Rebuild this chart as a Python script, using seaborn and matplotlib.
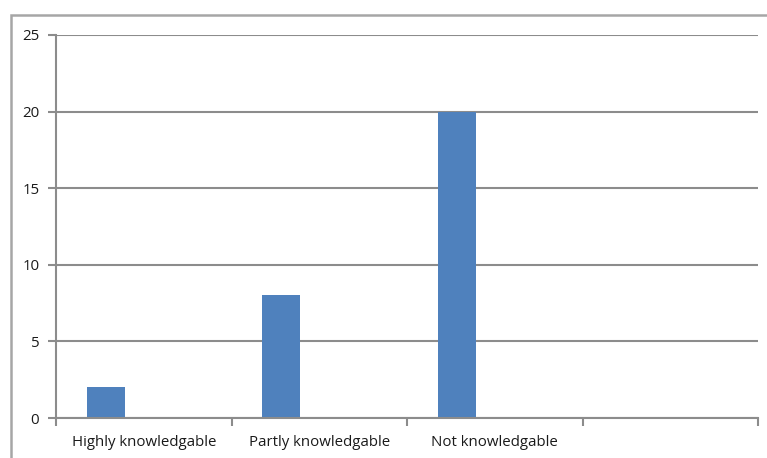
import matplotlib
matplotlib.use("Agg")
import matplotlib.pyplot as plt
import seaborn as sns
import pandas as pd
import numpy as np
from matplotlib.patches import Rectangle

categories = ["Highly knowledgable", "Partly knowledgable", "Not knowledgable", ""]
series1 = [2, 8, 20, np.nan]
series2 = [np.nan, np.nan, np.nan, np.nan]
series3 = [np.nan, np.nan, np.nan, np.nan]
series_names = ["S1", "S2", "S3"]
yticks = [0, 5, 10, 15, 20, 25]

rows = []
for name, vals in zip(series_names, [series1, series2, series3]):
    for c, v in zip(categories, vals):
        rows.append({"cat": c, "series": name, "value": v})
df = pd.DataFrame(rows)

sns.set_style("white")
plt.rcParams["font.family"] = ["Open Sans", "DejaVu Sans"]

fig = plt.figure(figsize=(7.67, 4.58), dpi=100)
W, H = 767, 458
ax = fig.add_axes([56 / W, 1 - 418 / H, (758 - 56) / W, (418 - 35) / H])

bar_color = "#4F81BD"
sns.barplot(data=df, x="cat", y="value", hue="series", order=categories,
            hue_order=series_names, palette=[bar_color] * 3, width=0.648,
            saturation=1, linewidth=0, legend=False, ax=ax, errorbar=None)

grid_c = "#8C8C8C"
ax.set_xlim(-0.5, 3.5)
ax.set_ylim(0, 25)
ax.set_yticks(yticks)
ax.set_yticklabels([str(t) for t in yticks])
ax.yaxis.grid(True, color=grid_c, linewidth=1.5)
ax.set_axisbelow(True)
ax.set_xlabel("")
ax.set_ylabel("")

for s in ["top", "right"]:
    ax.spines[s].set_visible(False)
for s in ["left", "bottom"]:
    ax.spines[s].set_color(grid_c)
    ax.spines[s].set_linewidth(1.5)

ax.set_xticks(range(len(categories)))
ax.set_xticklabels(categories)
ax.set_xticks(np.arange(-0.5, len(categories), 1.0), minor=True)
ax.tick_params(axis="x", which="major", bottom=True, length=0, pad=12, labelsize=10.8,
               labelcolor="#1a1a1a")
ax.tick_params(axis="x", which="minor", bottom=True, length=6, width=1.5, color=grid_c,
               direction="out")
ax.tick_params(axis="y", which="major", left=True, length=6, width=1.5, color=grid_c,
               direction="out", labelsize=10.8, labelcolor="#1a1a1a", pad=6)

# outer chart border
fig.patches.append(Rectangle((11 / W, -0.1), 1.2, 1 - 15 / H + 0.1, transform=fig.transFigure,
                             fill=False, edgecolor="#A6A6A6", linewidth=1.8))

fig.savefig("out.png", dpi=100)
